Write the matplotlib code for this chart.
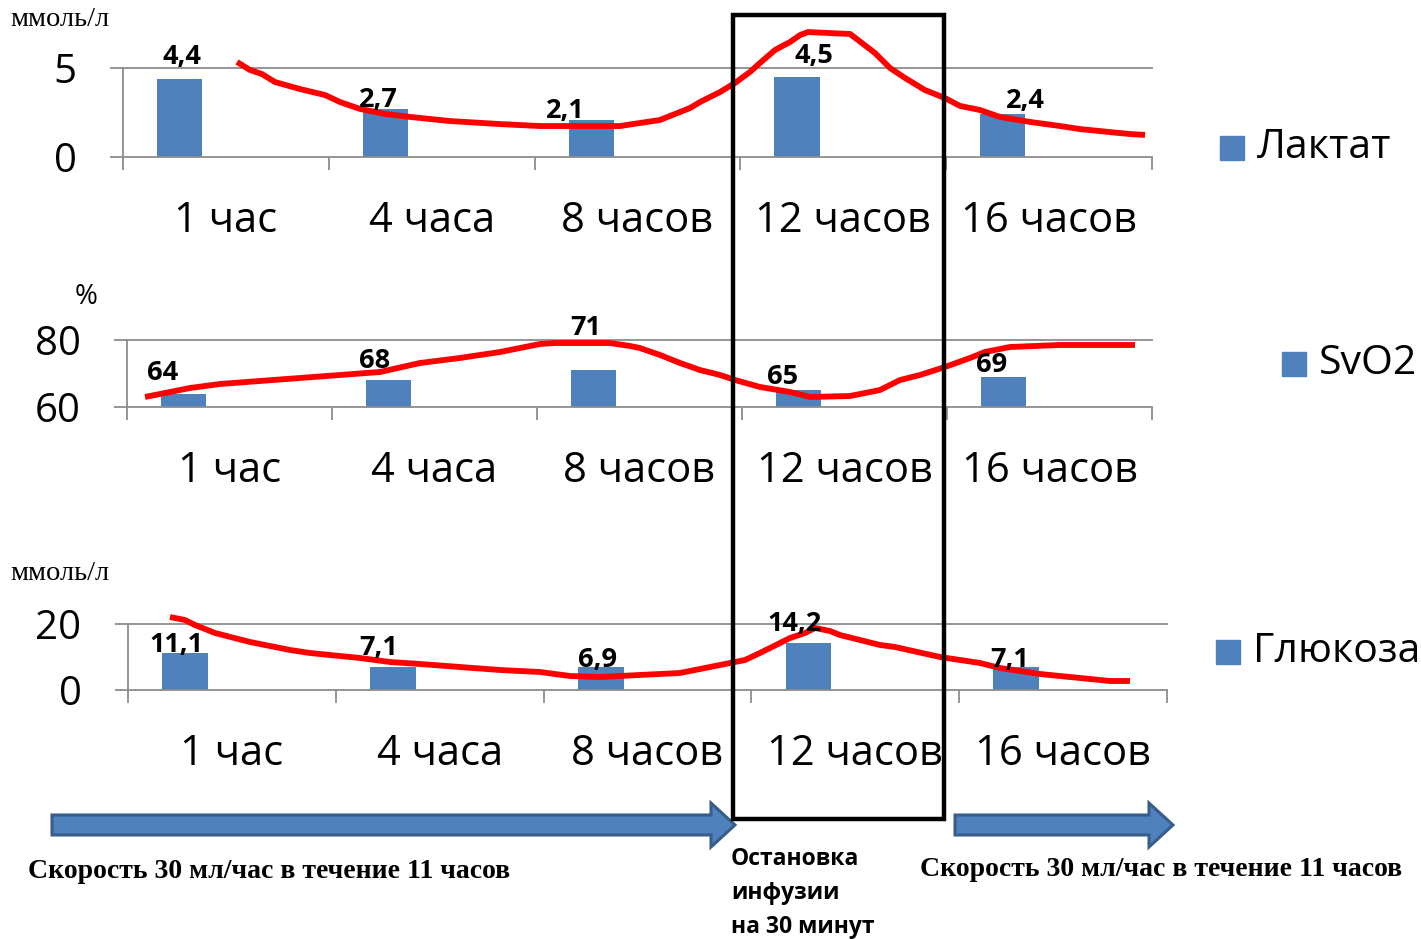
import matplotlib
matplotlib.use("Agg")
import matplotlib.pyplot as plt
from matplotlib.patches import Rectangle, Polygon
from matplotlib import transforms

W, H = 1421, 939
DPI = 100

# ---------------- data ----------------
categories = ["1 час", "4 часа", "8 часов", "12 часов", "16 часов"]

lactate = [4.4, 2.7, 2.1, 4.5, 2.4]
lactate_labels = ["4,4", "2,7", "2,1", "4,5", "2,4"]
svo2 = [64, 68, 71, 65, 69]
svo2_labels = ["64", "68", "71", "65", "69"]
glucose = [11.1, 7.1, 6.9, 14.2, 7.1]
glucose_labels = ["11,1", "7,1", "6,9", "14,2", "7,1"]

# hand-drawn red trend lines (x in category units, y in data units)
lac_curve_x = [0.054, 0.117, 0.175, 0.239, 0.360, 0.482, 0.554, 0.652, 0.773, 0.895,
               1.089, 1.332, 1.526, 1.721, 1.915, 2.109, 2.255, 2.304, 2.401, 2.474,
               2.547, 2.595, 2.668, 2.741, 2.790, 2.828, 3.033, 3.091, 3.154, 3.227,
               3.300, 3.397, 3.494, 3.567, 3.664, 3.761, 3.907, 4.053, 4.150, 4.296,
               4.393, 4.466]
lac_curve_y = [5.34, 4.89, 4.66, 4.21, 3.82, 3.48, 3.09, 2.70, 2.42, 2.25,
               2.02, 1.85, 1.74, 1.74, 1.74, 2.08, 2.75, 3.09, 3.65, 4.16,
               4.78, 5.28, 6.01, 6.46, 6.85, 7.02, 6.91, 6.40, 5.84, 5.00,
               4.44, 3.76, 3.31, 2.87, 2.64, 2.25, 1.97, 1.74, 1.57, 1.40,
               1.29, 1.24]

svo_curve_x = [-0.412, -0.290, -0.193, -0.046, 0.344, 0.734, 0.929, 1.124, 1.320, 1.515,
               1.588, 1.856, 1.954, 2.002, 2.100, 2.198, 2.295, 2.393, 2.466, 2.588,
               2.734, 2.832, 3.027, 3.173, 3.271, 3.368, 3.490, 3.612, 3.685, 3.807,
               4.051, 4.417]
svo_curve_y = [62.99, 64.48, 65.67, 66.87, 68.66, 70.45, 73.13, 74.63, 76.42, 78.81,
               79.10, 79.10, 78.21, 77.61, 75.52, 73.13, 71.04, 69.55, 68.06, 65.97,
               64.48, 62.99, 63.28, 65.07, 68.06, 69.55, 71.94, 74.63, 76.42, 77.91,
               78.51, 78.51]

glu_curve_x = [-0.298, -0.226, -0.178, -0.081, 0.087, 0.280, 0.376, 0.616, 0.761, 0.905,
               1.290, 1.483, 1.627, 1.771, 1.964, 2.156, 2.301, 2.397, 2.469, 2.541,
               2.686, 2.758, 2.806, 2.878, 2.926, 3.119, 3.191, 3.408, 3.600, 3.696,
               3.889, 4.081, 4.226, 4.322]
glu_curve_y = [22.12, 21.21, 19.70, 17.27, 14.55, 12.12, 11.21, 9.70, 8.48, 7.88,
               6.06, 5.45, 4.24, 3.94, 4.55, 5.15, 6.97, 8.18, 9.09, 11.21,
               15.76, 17.27, 18.79, 17.88, 16.67, 13.64, 13.03, 10.00, 8.18, 6.67,
               4.85, 3.64, 2.73, 2.73]

series_names = ["Лактат", "SvO2", "Глюкоза"]

# ---------------- style ----------------
BAR = "#4F81BD"
GRID = "#8C8C8C"
SANS = ["Open Sans", "DejaVu Sans"]
SERIF = ["Liberation Serif", "DejaVu Serif"]
BAR_SHIFT = -0.225   # bar sits in the first slot of each category
BAR_W = 0.22

fig = plt.figure(figsize=(W / DPI, H / DPI), dpi=DPI)
fig.patch.set_facecolor("white")


def frac(x, y):
    return x / W, 1 - y / H


def make_axes(left, right, top_px, bottom_px):
    return fig.add_axes([left / W, 1 - bottom_px / H, (right - left) / W,
                         (bottom_px - top_px) / H])


panels = [
    dict(box=(123, 1152, 68, 157), ylim=(0, 5), yt=[0, 5], vals=lactate, labs=lactate_labels,
         cx=lac_curve_x, cy=lac_curve_y,
         loff=[(2, 22), (-7, 9), (-26, 9), (17, 21), (23, 13)]),
    dict(box=(127, 1152, 340, 407), ylim=(60, 80), yt=[60, 80], vals=svo2, labs=svo2_labels,
         cx=svo_curve_x, cy=svo_curve_y,
         loff=[(-21, 21), (-14, 19), (-8, 42), (-16, 13), (-12, 12)]),
    dict(box=(128, 1167, 624, 690), ylim=(0, 20), yt=[0, 20], vals=glucose, labs=glucose_labels,
         cx=glu_curve_x, cy=glu_curve_y,
         loff=[(-9, 8), (-14, 19), (-3, 7), (-14, 19), (-7, 7)]),
]

xpos = [i + BAR_SHIFT for i in range(len(categories))]
for p in panels:
    l, r, t, b = p["box"]
    ax = make_axes(l, r, t, b)
    ax.set_xlim(-0.5, len(categories) - 0.5)
    ax.set_ylim(*p["ylim"])
    ax.patch.set_alpha(0)
    for s in ["top", "right"]:
        ax.spines[s].set_visible(False)
    for s in ["left", "bottom"]:
        ax.spines[s].set_color(GRID)
        ax.spines[s].set_linewidth(1.3)
    ax.set_yticks(p["yt"])
    ax.set_yticklabels([str(v) for v in p["yt"]], fontsize=29, family=SANS)
    ax.tick_params(axis="y", length=9.5, width=1.3, color=GRID, pad=24)
    ax.set_xticks([i - 0.5 for i in range(len(categories) + 1)])
    ax.set_xticklabels([])
    ax.tick_params(axis="x", length=9.5, width=1.3, color=GRID, direction="out")
    ax.axhline(p["ylim"][1], color=GRID, lw=1.3, clip_on=False, zorder=1)
    ax.bar(xpos, [v - p["ylim"][0] for v in p["vals"]], bottom=p["ylim"][0],
           width=BAR_W, color=BAR, zorder=2)
    ax.plot(p["cx"], p["cy"], color="#FF0000", lw=4.2, clip_on=False, zorder=4,
            solid_capstyle="butt", solid_joinstyle="round")
    for i, (v, lab) in enumerate(zip(p["vals"], p["labs"])):
        dx, dy = p["loff"][i]
        ax.annotate(lab, (xpos[i], v), xytext=(dx, dy), textcoords="offset pixels",
                    ha="center", va="center", fontsize=19.5, fontweight="bold",
                    family=SANS, zorder=5, annotation_clip=False)
    tr = transforms.offset_copy(ax.get_xaxis_transform(), fig=fig, y=-64, units="dots")
    for i, c in enumerate(categories):
        ax.text(i, 0, c, transform=tr, ha="center", va="center", fontsize=30,
                family=SANS)

# legends
legend_items = [(1220, 148, 24), (1282, 364, 24), (1216, 652, 24)]
for (x, y, s), name in zip(legend_items, series_names):
    fig.patches.append(Rectangle(frac(x, y + s / 2), s / W, s / H, color=BAR,
                                 transform=fig.transFigure, figure=fig))
    fig.text(*frac(x + s + 13, y), name, fontsize=29.5, family=SANS,
             ha="left", va="center")

# units
fig.text(*frac(10, 20), "ммоль/л", fontsize=20.5, family=SERIF, ha="left", va="center")
fig.text(*frac(86, 297), "%", fontsize=20, family=SANS, ha="center", va="center")
fig.text(*frac(10, 573), "ммоль/л", fontsize=20.5, family=SERIF, ha="left", va="center")

# arrows
def arrow(x0, x1, y, half_body=10, half_head=22, head_len=24):
    pts = [(x0, y - half_body), (x1 - head_len, y - half_body), (x1 - head_len, y - half_head),
           (x1, y), (x1 - head_len, y + half_head), (x1 - head_len, y + half_body),
           (x0, y + half_body)]
    pts = [frac(px, py) for px, py in pts]
    fig.patches.append(Polygon(pts, closed=True, facecolor=BAR, edgecolor="#385D8A",
                               lw=2.2, transform=fig.transFigure, figure=fig))

arrow(52, 735, 825)
arrow(955, 1173, 825)

# black box
bx0, by0 = frac(733, 819)
bx1, by1 = frac(944, 15)
fig.patches.append(Rectangle((bx0, by0), bx1 - bx0, by1 - by0, fill=False,
                             edgecolor="black", lw=3.2, transform=fig.transFigure,
                             figure=fig, zorder=10))

# bottom texts
fig.text(*frac(28, 871), "Скорость 30 мл/час в течение 11 часов", fontsize=20,
         fontweight="bold", family=SERIF, ha="left", va="center")
fig.text(*frac(920, 869), "Скорость 30 мл/час в течение 11 часов", fontsize=20,
         fontweight="bold", family=SERIF, ha="left", va="center")
for k, line in enumerate(["Остановка", "инфузии", "на 30 минут"]):
    fig.text(*frac(731, 859 + 34 * k), line, fontsize=16.5, fontweight="bold",
             family=SANS, ha="left", va="center")

fig.savefig("out.png", dpi=DPI)
